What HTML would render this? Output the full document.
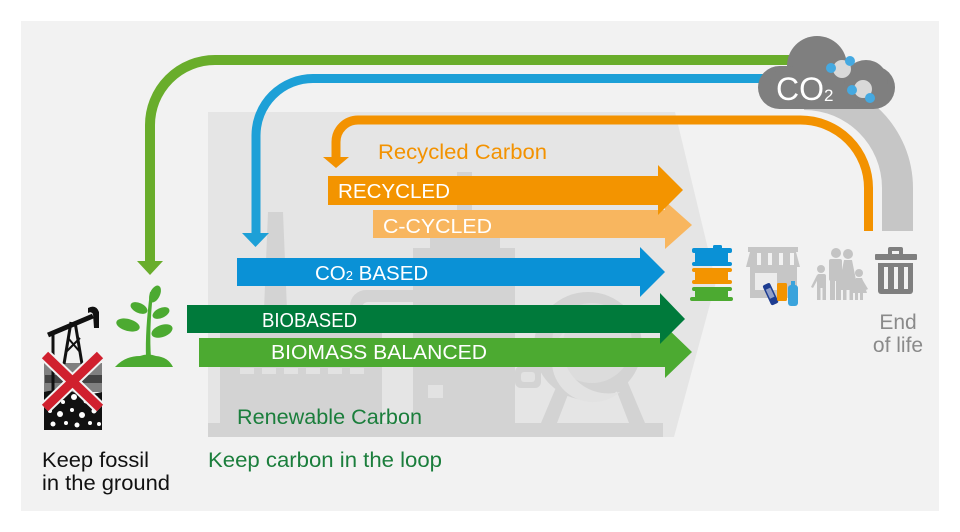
<!DOCTYPE html>
<html><head><meta charset="utf-8"><style>
html,body{margin:0;padding:0;background:#fff;}
svg{display:block;}
text{font-family:"Liberation Sans",Arial,sans-serif;}
</style></head><body>
<svg width="960" height="532" viewBox="0 0 960 532" xmlns="http://www.w3.org/2000/svg">
<rect width="960" height="532" fill="#ffffff"/>
<rect x="21" y="21" width="918" height="490" fill="#f2f2f2"/>

<!-- factory background -->
<polygon points="208,112 675,112 716,282 674,437 208,437" fill="#e5e5e5"/>
<g fill="#d3d3d3">
  <polygon points="268,212 283,212 287,310 264,310"/>
  <rect x="220" y="305" width="162" height="132"/>
  <path d="M350 320 V306 A16 16 0 0 1 366 290 H413 V302 H368 A6 6 0 0 0 362 308 V320 Z"/>
  <rect x="457" y="172" width="15" height="70"/>
  <rect x="430" y="237" width="70" height="14"/>
  <rect x="413" y="248" width="102" height="189"/>
  <rect x="515" y="366" width="26" height="22" rx="6"/>
  <circle cx="588" cy="346" r="54"/>
  <polygon points="541,423 560,378 572,384 557,423"/>
  <polygon points="645,423 626,378 614,384 629,423"/>
  <rect x="208" y="423" width="455" height="14"/>
</g>
<g fill="#dcdcdc">
  <circle cx="592" cy="343" r="40"/>
</g>
<g fill="#e2e2e2">
  <rect x="240" y="368" width="14" height="6"/><rect x="262" y="368" width="14" height="6"/>
  <rect x="284" y="368" width="14" height="6"/><rect x="306" y="368" width="14" height="6"/>
  <rect x="328" y="368" width="14" height="6"/><rect x="350" y="368" width="14" height="6"/>
  <rect x="428" y="385" width="15" height="13"/>
  <rect x="521" y="372" width="14" height="10" rx="3"/>
  <path d="M566 330 A40 40 0 0 0 620 392 A46 46 0 0 1 566 330 Z"/>
</g>

<!-- gray tail from cloud -->
<path d="M804 79 A109 109 0 0 1 913 188 V231 H882 V188 A78 78 0 0 0 804 110 Z" fill="#c6c6c6"/>

<!-- loops -->
<path d="M790 60 H215 A65 65 0 0 0 150 125 V262" fill="none" stroke="#69ad2b" stroke-width="10"/>
<polygon points="137,261 163,261 150,275" fill="#69ad2b"/>
<path d="M770 78.5 H313 A57 57 0 0 0 256 135.5 V234" fill="none" stroke="#1da0d7" stroke-width="9"/>
<polygon points="242,233 269,233 255.5,247" fill="#1da0d7"/>
<path d="M868.5 231 V188 A68 68 0 0 0 800.5 120 H358 A22 22 0 0 0 336 142 V158" fill="none" stroke="#f39200" stroke-width="9"/>
<polygon points="323,157 349,157 336,168" fill="#f39200"/>

<!-- big arrows -->
<polygon points="373,210 665,210 665,201 692,225 665,249 665,238 373,238" fill="#f8b65f"/>
<polygon points="328,176 658,176 658,165 683,190 658,215 658,205 328,205" fill="#f39400"/>
<polygon points="237,258 640,258 640,247 665,272 640,297 640,286 237,286" fill="#0a91d6"/>
<polygon points="199,338 665,338 665,326 692,352 665,378 665,367 199,367" fill="#4caa31"/>
<polygon points="187,305 660,305 660,293 685,319 660,344 660,333 187,333" fill="#007a3b"/>

<g fill="#ffffff" font-size="20.5">
  <text x="338" y="198" textLength="112" lengthAdjust="spacingAndGlyphs">RECYCLED</text>
  <text x="383" y="233" textLength="109" lengthAdjust="spacingAndGlyphs">C-CYCLED</text>
  <text x="315" y="280">CO<tspan font-size="13">2</tspan> BASED</text>
  <text x="262" y="327" textLength="95" lengthAdjust="spacingAndGlyphs">BIOBASED</text>
  <text x="271" y="359" textLength="216" lengthAdjust="spacingAndGlyphs">BIOMASS BALANCED</text>
</g>

<!-- labels -->
<text x="378" y="159" font-size="21" fill="#f39200" textLength="169" lengthAdjust="spacingAndGlyphs">Recycled Carbon</text>
<text x="237" y="424" font-size="21" fill="#1b7e3c" textLength="185" lengthAdjust="spacingAndGlyphs">Renewable Carbon</text>
<text x="208" y="467" font-size="21.5" fill="#1b7e3c" textLength="234" lengthAdjust="spacingAndGlyphs">Keep carbon in the loop</text>
<text x="42" y="467" font-size="21.5" fill="#111" textLength="107" lengthAdjust="spacingAndGlyphs">Keep fossil</text>
<text x="42" y="490" font-size="21.5" fill="#111" textLength="128" lengthAdjust="spacingAndGlyphs">in the ground</text>
<text x="898" y="329" font-size="21" fill="#8a8a8a" text-anchor="middle">End</text>
<text x="898" y="352" font-size="21" fill="#8a8a8a" text-anchor="middle">of life</text>

<!-- cloud -->
<g fill="#7f7f7f">
  <rect x="758" y="66" width="137" height="43" rx="21.5"/>
  <circle cx="817" cy="66" r="30"/>
  <circle cx="866" cy="82" r="22"/>
  <circle cx="788" cy="84" r="18"/>
</g>
<text x="776" y="100" font-size="32" fill="#ffffff">CO<tspan font-size="17" dy="1">2</tspan></text>
<g>
  <circle cx="842" cy="69" r="9" fill="#d9d9d9"/>
  <circle cx="831" cy="68" r="5" fill="#45a9e1"/>
  <circle cx="850" cy="61" r="5" fill="#45a9e1"/>
  <circle cx="863" cy="89" r="9" fill="#d9d9d9"/>
  <circle cx="852" cy="90" r="5" fill="#45a9e1"/>
  <circle cx="870" cy="98" r="5" fill="#45a9e1"/>
</g>

<!-- barrels -->
<g>
  <rect x="713" y="245" width="9" height="4" rx="1.5" fill="#0a91d6"/>
  <rect x="692" y="248" width="40" height="5" rx="2" fill="#0a91d6"/>
  <rect x="695" y="252" width="33" height="11" fill="#0a91d6"/>
  <rect x="692" y="262" width="40" height="4" rx="2" fill="#0a91d6"/>
  <rect x="692" y="268" width="40" height="4" rx="2" fill="#f39400"/>
  <rect x="695" y="271" width="33" height="10" fill="#f39400"/>
  <rect x="692" y="280" width="40" height="4" rx="2" fill="#f39400"/>
  <rect x="692" y="287" width="40" height="4" rx="2" fill="#4caa31"/>
  <rect x="695" y="290" width="33" height="8" fill="#4caa31"/>
  <rect x="690" y="297" width="43" height="4" rx="2" fill="#4caa31"/>
</g>

<!-- shop -->
<g>
  <rect x="748" y="247" width="50" height="5" fill="#c6c6c6"/>
  <polygon points="750,252 796,252 800,267 746,267" fill="#c6c6c6"/>
  <g fill="#f2f2f2">
    <rect x="757" y="253" width="4" height="12"/>
    <rect x="768" y="253" width="4" height="12"/>
    <rect x="779" y="253" width="4" height="12"/>
    <rect x="790" y="253" width="4" height="12"/>
  </g>
  <rect x="750" y="267" width="47" height="31" fill="#c6c6c6"/>
  <rect x="755" y="273" width="22" height="17" fill="#ececec"/>
  <g transform="rotate(-25 771 295)"><rect x="767" y="283" width="8" height="22" rx="2" fill="#1e3d91"/><rect x="768.5" y="288" width="5" height="10" fill="#fff" opacity="0.5"/></g>
  <rect x="777" y="283" width="10" height="18" rx="1.5" fill="#f39400"/>
  <rect x="791" y="281" width="4" height="4" fill="#3aa3dc"/>
  <rect x="788" y="285" width="10" height="21" rx="3" fill="#3aa3dc"/>
</g>

<!-- family -->
<g fill="#c4c4c4">
  <circle cx="821" cy="269" r="4"/>
  <rect x="817" y="274" width="9" height="14" rx="2"/>
  <rect x="817" y="286" width="3.5" height="14"/><rect x="822.5" y="286" width="3.5" height="14"/>
  <polygon points="817,275 811,287 813,288 818,279"/>
  <circle cx="836" cy="253" r="5"/>
  <rect x="829" y="259" width="13" height="22" rx="2"/>
  <rect x="830" y="279" width="5" height="21"/><rect x="836" y="279" width="5" height="21"/>
  <circle cx="848" cy="254" r="5"/>
  <polygon points="844,260 852,260 858,290 838,290"/>
  <rect x="843" y="289" width="3.5" height="11"/><rect x="849.5" y="289" width="3.5" height="11"/>
  <circle cx="859" cy="273" r="4"/>
  <polygon points="856,278 862,278 867,293 851,293"/>
  <rect x="855" y="292" width="3" height="8"/><rect x="860" y="292" width="3" height="8"/>
  <polygon points="862,279 868,289 866,290 861,283"/>
</g>

<!-- trash -->
<g fill="#7f7f7f">
  <path d="M888 255 V249 A2 2 0 0 1 890 247 H901 A2 2 0 0 1 903 249 V255 H899 V251 H892 V255 Z"/>
  <rect x="875" y="254" width="42" height="6" rx="1"/>
  <path d="M878 263 H913 V291 A3 3 0 0 1 910 294 H881 A3 3 0 0 1 878 291 Z"/>
</g>
<g fill="#f2f2f2">
  <rect x="884" y="267" width="4" height="22"/>
  <rect x="894" y="267" width="4" height="22"/>
  <rect x="904" y="267" width="4" height="22"/>
</g>

<!-- oil derrick -->
<g>
  <rect x="44" y="363" width="58" height="29" fill="#808080"/>
  <rect x="45" y="375" width="57" height="8" fill="#444"/>
  <path d="M44 392 Q60 388 73 392 T102 392 V430 H44 Z" fill="#111"/>
  <g fill="#fff">
    <circle cx="52" cy="399" r="2.5"/><circle cx="63" cy="402" r="2"/><circle cx="74" cy="397" r="3"/>
    <circle cx="86" cy="401" r="2.5"/><circle cx="96" cy="398" r="2"/><circle cx="50" cy="411" r="2"/>
    <circle cx="60" cy="414" r="3"/><circle cx="72" cy="410" r="2"/><circle cx="82" cy="415" r="3"/>
    <circle cx="94" cy="411" r="2.5"/><circle cx="53" cy="424" r="2.5"/><circle cx="66" cy="423" r="2"/>
    <circle cx="77" cy="425" r="2.5"/><circle cx="90" cy="423" r="2"/><circle cx="99" cy="424" r="2"/>
  </g>
  <g stroke="#111" fill="none">
    <line x1="48" y1="335" x2="93" y2="316" stroke-width="5"/>
    <line x1="53" y1="333" x2="53" y2="392" stroke-width="3"/>
    <line x1="64" y1="364" x2="71" y2="322" stroke-width="3"/>
    <line x1="82" y1="364" x2="75" y2="322" stroke-width="3"/>
    <line x1="66" y1="352" x2="80" y2="338" stroke-width="2"/>
    <line x1="68" y1="338" x2="80" y2="352" stroke-width="2"/>
  </g>
  <path d="M88 308 Q96 304 99 312 L99 328 L94 328 L93 314 Q91 311 88 313 Z" fill="#111"/>
  <g stroke="#f2f2f2" stroke-width="13" stroke-linecap="butt">
    <line x1="45" y1="355" x2="100" y2="408"/><line x1="100" y1="355" x2="45" y2="408"/>
  </g>
  <g stroke="#d0202e" stroke-width="9" stroke-linecap="butt">
    <line x1="45" y1="355" x2="100" y2="408"/><line x1="100" y1="355" x2="45" y2="408"/>
  </g>
</g>

<!-- plant -->
<g fill="#4caa31">
  <path d="M115 367 Q125 356 140 356 Q148 353 156 356 Q168 357 173 367 Z"/>
  <path d="M146 358 Q145 330 150 292 L153 293 Q149 330 151 358 Z"/>
  <ellipse cx="155" cy="294" rx="5" ry="9" transform="rotate(25 155 294)"/>
  <ellipse cx="139" cy="308" rx="9" ry="5" transform="rotate(25 139 308)"/>
  <ellipse cx="161" cy="313" rx="9" ry="5" transform="rotate(-25 161 313)"/>
  <ellipse cx="128" cy="325" rx="12" ry="6" transform="rotate(15 128 325)"/>
  <ellipse cx="162" cy="331" rx="11" ry="6" transform="rotate(-20 162 331)"/>
</g>
</svg>
</body></html>
